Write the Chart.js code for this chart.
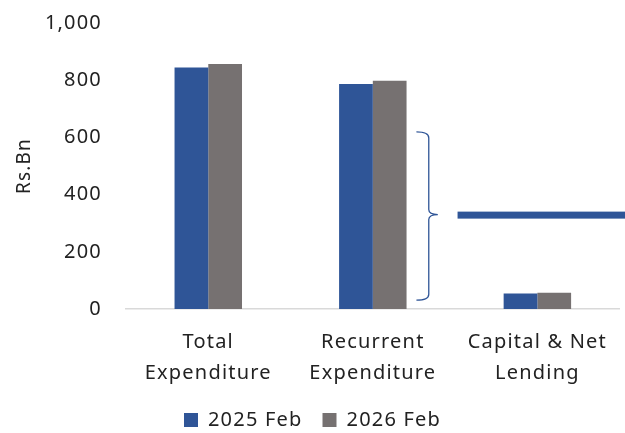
<!DOCTYPE html>
<html>
<head>
<meta charset="utf-8">
<script src="https://cdn.jsdelivr.net/npm/chart.js@4"></script>
<style>
  html, body { margin: 0; padding: 0; background: #fff; }
  #wrap { width: 625px; height: 433px; }
</style>
</head>
<body>
<div id="wrap"><canvas id="chart"></canvas></div>
<script>
const categories = [
    ['Total', 'Expenditure'],
    ['Recurrent', 'Expenditure'],
    ['Capital & Net', 'Lending']
];
const seriesNames = ['2025 Feb', '2026 Feb'];
const feb2025 = [844, 787, 54];
const feb2026 = [857, 798, 57];
const yTicks = [0, 200, 400, 600, 800, 1000];

// brace spans the recurrent part, pointing to the blue bar
const braceFrom = 31;
const braceTo = 619;
const markerValue = 330;

const blue = '#2F5597';
const grey = '#767171';
const fontFamily = '"Noto Sans", sans-serif';

// wider letter spacing, closer to the original font
const spacingPlugin = {
    id: 'spacing',
    beforeUpdate(chart) { chart.ctx.letterSpacing = '1.2px'; },
    beforeDraw(chart) { chart.ctx.letterSpacing = '1.2px'; }
};

const bracePlugin = {
    id: 'brace',
    afterDatasetsDraw(chart) {
        const ctx = chart.ctx;
        const x = chart.scales.x;
        const y = chart.scales.y;
        const left = x.getPixelForValue(1.265);
        const mid = x.getPixelForValue(1.34);
        const tip = x.getPixelForValue(1.395);
        const top = y.getPixelForValue(braceTo);
        const bottom = y.getPixelForValue(braceFrom);
        const center = y.getPixelForValue(markerValue);

        ctx.save();
        ctx.strokeStyle = blue;
        ctx.lineWidth = 1.3;
        ctx.beginPath();
        ctx.moveTo(left, top);
        ctx.quadraticCurveTo(mid, top, mid, top + 6);
        ctx.lineTo(mid, center - 5);
        ctx.quadraticCurveTo(mid, center, tip, center);
        ctx.quadraticCurveTo(mid, center, mid, center + 5);
        ctx.lineTo(mid, bottom - 6);
        ctx.quadraticCurveTo(mid, bottom, left, bottom);
        ctx.stroke();

        // blue bar to the right of the brace
        const barStart = x.getPixelForValue(1.515);
        ctx.fillStyle = blue;
        ctx.fillRect(barStart, center - 3, chart.width - barStart, 7);
        ctx.restore();
    }
};

new Chart(document.getElementById('chart'), {
    type: 'bar',
    data: {
        labels: categories,
        datasets: [
            {
                label: seriesNames[0],
                data: feb2025,
                backgroundColor: blue,
                categoryPercentage: 0.41,
                barPercentage: 1.0
            },
            {
                label: seriesNames[1],
                data: feb2026,
                backgroundColor: grey,
                categoryPercentage: 0.41,
                barPercentage: 1.0
            }
        ]
    },
    options: {
        responsive: true,
        maintainAspectRatio: false,
        animation: false,
        layout: {
            padding: { top: 0, right: 0, left: 0, bottom: -7 }
        },
        scales: {
            x: {
                afterFit(axis) {
                    axis.height -= 17;
                },
                grid: { display: false, drawTicks: false },
                border: { color: '#d9d9d9', width: 1.5 },
                ticks: {
                    color: '#222',
                    padding: 18,
                    maxRotation: 0,
                    autoSkip: false,
                    font: { family: fontFamily, size: 20, lineHeight: 1.55 }
                }
            },
            y: {
                min: 0,
                max: 1000,
                afterBuildTicks(axis) {
                    axis.ticks = yTicks.map(v => ({ value: v }));
                },
                afterFit(axis) {
                    axis.width = 126;
                    axis.paddingTop = 23;
                },
                grid: { display: false, drawTicks: false },
                border: { display: false },
                ticks: {
                    color: '#222',
                    padding: 24,
                    font: { family: fontFamily, size: 20 },
                    callback: v => v.toLocaleString('en-US')
                },
                title: {
                    display: true,
                    text: 'Rs.Bn',
                    color: '#222',
                    padding: { top: 13, bottom: 2 },
                    font: { family: fontFamily, size: 19 }
                }
            }
        },
        plugins: {
            legend: {
                position: 'bottom',
                labels: {
                    color: '#222',
                    boxWidth: 14,
                    boxHeight: 14,
                    padding: 20,
                    font: { family: fontFamily, size: 20 }
                }
            },
            tooltip: { enabled: false }
        }
    },
    plugins: [spacingPlugin, bracePlugin]
});
</script>
</body>
</html>
